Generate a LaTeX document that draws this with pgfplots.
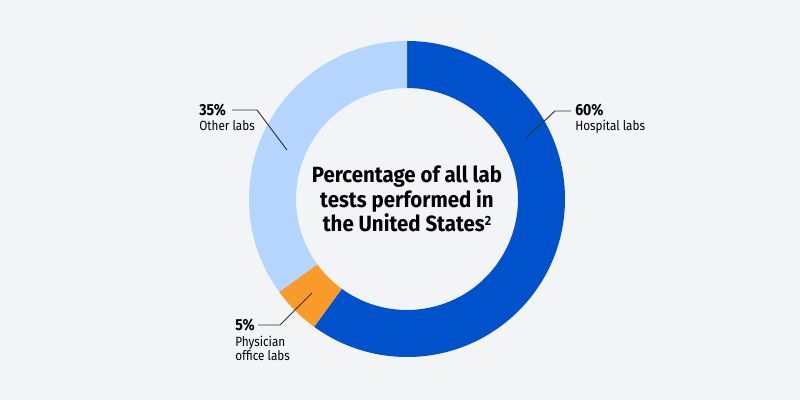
\documentclass[border=0pt]{standalone}
\usepackage{fontspec}
\setmainfont{Fira Sans}
\newfontfamily\titlefont[FakeStretch=0.93]{Fira Sans}
\newfontfamily\labfont[FakeStretch=0.88]{Fira Sans}
\usepackage{pgfplots}
\pgfplotsset{compat=1.18}
\usepackage{pgfplotstable}

\definecolor{bg}{HTML}{F3F4F6}
\definecolor{hosp}{HTML}{0052CC}
\definecolor{phys}{HTML}{F99B2B}
\definecolor{other}{HTML}{B3D5FF}
\definecolor{lead}{HTML}{333333}

% share of all lab tests, in percent
\pgfplotstableread{
share
60
5
35
}\shares
\pgfplotstablegetelem{0}{share}\of\shares \let\sA\pgfplotsretval
\pgfplotstablegetelem{1}{share}\of\shares \let\sB\pgfplotsretval
\pgfplotstablegetelem{2}{share}\of\shares \let\sC\pgfplotsretval

% slice angles, clockwise from the top
\pgfmathsetmacro\aA{90}
\pgfmathsetmacro\aB{\aA-3.6*\sA}
\pgfmathsetmacro\aC{\aB-3.6*\sB}
\pgfmathsetmacro\aD{\aC-3.6*\sC}

\def\Ro{158}\def\Ri{111}

\newcommand\ring[3]{% start, end, colour
  \fill[#3] (axis cs:{\Ro*cos(#1)},{\Ro*sin(#1)})
    arc[start angle=#1, end angle=#2, radius=\Ro*0.75pt]
    -- (axis cs:{\Ri*cos(#2)},{\Ri*sin(#2)})
    arc[start angle=#2, end angle=#1, radius=\Ri*0.75pt] -- cycle;}

\tikzset{ttl/.style={font=\titlefont\bfseries\fontsize{16.5}{18}\selectfont, anchor=base, inner sep=0pt}}

\begin{document}
\begin{tikzpicture}
\begin{axis}[
    x=0.75pt, y=0.75pt,
    xmin=-407, xmax=393,
    ymin=-201, ymax=199,
    hide axis,
    clip=false,
]
\fill[bg] (rel axis cs:0,0) rectangle (rel axis cs:1,1);

\ring{\aA}{\aB}{hosp}
\ring{\aB}{\aC}{phys}
\ring{\aC}{\aD}{other}

% centre title
\node[ttl] at (axis cs:0,16) {Percentage of all lab};
\node[ttl] at (axis cs:0,-9) {tests performed in};
\node[ttl] at (axis cs:0,-33) {the United States\raisebox{0.55ex}{\fontsize{10}{10}\selectfont 2}};

% Hospital labs
\draw[lead, line width=0.7pt] (axis cs:119,61) -- (axis cs:148,88) -- (axis cs:164,88);
\node[font=\labfont\bfseries\fontsize{12}{14}\selectfont, anchor=base west, inner sep=0pt]
  at (axis cs:168,83) {60\%};
\node[font=\labfont\fontsize{10}{12}\selectfont, anchor=base west, inner sep=0pt]
  at (axis cs:168,68) {Hospital labs};

% Other labs
\draw[lead, line width=0.7pt] (axis cs:-120,49) -- (axis cs:-150,89) -- (axis cs:-175,89);
\node[font=\labfont\bfseries\fontsize{12}{14}\selectfont, anchor=base west, inner sep=0pt]
  at (axis cs:-208,83) {35\%};
\node[font=\labfont\fontsize{10}{12}\selectfont, anchor=base west, inner sep=0pt]
  at (axis cs:-208,68) {Other labs};

% Physician office labs
\draw[lead, line width=0.7pt] (axis cs:-95,-94) -- (axis cs:-127,-126) -- (axis cs:-149,-126);
\node[font=\labfont\bfseries\fontsize{12}{14}\selectfont, anchor=base west, inner sep=0pt]
  at (axis cs:-172,-132) {5\%};
\node[font=\labfont\fontsize{10}{12}\selectfont, anchor=base west, inner sep=0pt]
  at (axis cs:-172,-148) {Physician};
\node[font=\labfont\fontsize{10}{12}\selectfont, anchor=base west, inner sep=0pt]
  at (axis cs:-172,-161) {office labs};
\end{axis}
\end{tikzpicture}
\end{document}
